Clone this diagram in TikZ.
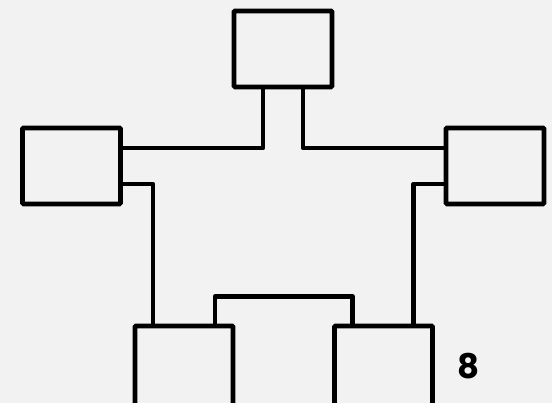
\documentclass[tikz,border=0pt]{standalone}
\usepackage{fontspec}
\setmainfont{Poppins}

\begin{document}
\begin{tikzpicture}
   [
    x=1pt, y=1pt,
    kasse/.style={rectangle, draw=black, line width=4.6pt, rounded corners=1pt,
                  minimum width=98pt, minimum height=76pt, inner sep=0pt},
    lang/.style={minimum height=82pt},
    link/.style={draw=black, line width=4.6pt, line join=round},
    nummer/.style={font=\bfseries\fontsize{34}{34}\selectfont, inner sep=0pt}
    ]

\fill[black!5] (0,0) rectangle (552,403);
\useasboundingbox (0,0) rectangle (552,403);

% the five boxes
\node[kasse] (topp)   at (283,354) {};
\node[kasse] (venstre) at (71.5,237) {};
\node[kasse] (hoyre)  at (495,237) {};
\node[kasse, lang] (nedv) at (184,36) {};
\node[kasse, lang] (nedh) at (383.5,36) {};

\node[nummer] (nr) at (469,37) {8};

% top box to the two side boxes
\draw[link] ([xshift=-20pt]topp.south) |- ([yshift=18pt]venstre.east);
\draw[link] ([xshift=20pt]topp.south) |- ([yshift=18pt]hoyre.west);
% side boxes down to the bottom boxes
\draw[link] ([yshift=-18pt]venstre.east) -| ([xshift=-31pt]nedv.north);
\draw[link] ([yshift=-18pt]hoyre.west) -| ([xshift=30pt]nedh.north);
% bridge between the bottom boxes
\draw[link] ([xshift=31pt]nedv.north) -- ++(0,27) -| ([xshift=-31pt]nedh.north);

\end{tikzpicture}
\end{document}
